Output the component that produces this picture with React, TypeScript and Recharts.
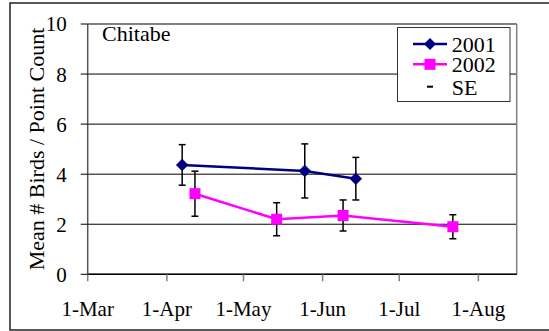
import React from 'react';
import { LineChart, Line, XAxis, YAxis, CartesianGrid, ErrorBar, ReferenceLine } from 'recharts';

const SITE = 'Chitabe';
const Y_TITLE = 'Mean # Birds / Point Count';
const SERIES_NAMES = ['2001', '2002'];
const SE_LABEL = 'SE';

const dates2001 = ['04-07', '05-25', '06-14'];
const mean2001 = [4.37, 4.13, 3.82];
const se2001 = [0.81, 1.08, 0.85];

const dates2002 = ['04-12', '05-14', '06-09', '07-22'];
const mean2002 = [3.22, 2.2, 2.35, 1.9];
const se2002 = [0.9, 0.66, 0.62, 0.48];

const tickDates = ['03-01', '04-01', '05-01', '06-01', '07-01', '08-01'];
const tickLabels = ['1-Mar', '1-Apr', '1-May', '1-Jun', '1-Jul', '1-Aug'];
const axisStart = '03-01';
const axisEnd = '08-16';
const yTicks = [0, 2, 4, 6, 8, 10];

const NAVY = '#000080';
const MAGENTA = '#FF00FF';
const FONT = '"Liberation Serif", serif';

const dayOf = (md: string) => {
  const [m, d] = md.split('-').map(Number);
  const [m0, d0] = axisStart.split('-').map(Number);
  return Math.round((Date.UTC(2001, m - 1, d) - Date.UTC(2001, m0 - 1, d0)) / 86400000);
};

const data2001 = dates2001.map((d, i) => ({ day: dayOf(d), value: mean2001[i], se: se2001[i] }));
const data2002 = dates2002.map((d, i) => ({ day: dayOf(d), value: mean2002[i], se: se2002[i] }));
const xTicks = tickDates.map(dayOf);
const labelOf: Record<number, string> = {};
xTicks.forEach((t, i) => { labelOf[t] = tickLabels[i]; });

const Diamond = (props: any) => {
  const { cx, cy, key } = props;
  if (cx == null || cy == null) return null;
  const r = 6;
  return (
    <polygon key={key} points={`${cx},${cy - r} ${cx + r},${cy} ${cx},${cy + r} ${cx - r},${cy}`} fill={NAVY} stroke={NAVY} strokeWidth={0.5} />
  );
};

const Square = (props: any) => {
  const { cx, cy, key } = props;
  if (cx == null || cy == null) return null;
  const s = 11;
  return <rect key={key} x={cx - s / 2} y={cy - s / 2} width={s} height={s} fill={MAGENTA} />;
};

const txt = { fontFamily: FONT };

export default function App() {
  return (
    <div style={{ position: 'absolute', left: 0, top: 0, width: 549, height: 331, overflow: 'hidden', background: '#fff', fontFamily: FONT }}>
      <svg width={549} height={331} style={{ position: 'absolute', left: 0, top: 0 }}>
        <rect x={10} y={3} width={600} height={327} fill="none" stroke="#222" strokeWidth={1.5} />
      </svg>
      <div style={{ position: 'absolute', left: 0, top: 0 }}>
        <LineChart width={549} height={331} margin={{ top: 24, right: 32.3, bottom: 0, left: 10 }} style={txt}>
          <CartesianGrid vertical={false} stroke="#000" strokeWidth={1} />
          <XAxis
            type="number"
            dataKey="day"
            domain={[0, dayOf(axisEnd)]}
            ticks={xTicks}
            tickFormatter={(v: number) => labelOf[v] ?? ''}
            height={56.7}
            tickSize={7}
            tickMargin={20}
            axisLine={{ stroke: '#000', strokeWidth: 1.5 }}
            tickLine={{ stroke: '#808080', strokeWidth: 1.5 }}
            tick={{ fill: '#000', fontSize: 21, fontFamily: FONT, style: txt }}
            allowDataOverflow
          />
          <YAxis
            type="number"
            domain={[0, 10]}
            ticks={yTicks}
            width={77.7}
            tickSize={7}
            tickMargin={14}
            axisLine={{ stroke: '#555', strokeWidth: 1.5 }}
            tickLine={{ stroke: '#000' }}
            tick={{ fill: '#000', fontSize: 21, fontFamily: FONT, style: txt }}
          />
          <ReferenceLine y={10} stroke="#808080" strokeWidth={1.5} />
          <ReferenceLine x={dayOf(axisEnd)} stroke="#808080" strokeWidth={1.5} />
          <Line
            data={data2001}
            dataKey="value"
            name={SERIES_NAMES[0]}
            stroke={NAVY}
            strokeWidth={2.5}
            dot={Diamond}
            isAnimationActive={false}
          >
            <ErrorBar dataKey="se" direction="y" width={3.5} stroke="#000" strokeWidth={1.5} />
          </Line>
          <Line
            data={data2002}
            dataKey="value"
            name={SERIES_NAMES[1]}
            stroke={MAGENTA}
            strokeWidth={2.5}
            dot={Square}
            isAnimationActive={false}
          >
            <ErrorBar dataKey="se" direction="y" width={3.5} stroke="#000" strokeWidth={1.5} />
          </Line>
        </LineChart>
      </div>
      <svg width={549} height={331} style={{ position: 'absolute', left: 0, top: 0, pointerEvents: 'none', ...txt }}>
        <text x={36} y={149} transform="rotate(-90 36 149)" textAnchor="middle" dominantBaseline="central" fontSize={22} style={txt} fill="#000">
          {Y_TITLE}
        </text>
        <text x={102} y={40.7} fontSize={22} style={txt} fill="#000">{SITE}</text>
        <rect x={397.5} y={27.5} width={112.5} height={74} fill="#fff" stroke="#333" strokeWidth={1} />
        <line x1={413} y1={44} x2={447} y2={44} stroke={NAVY} strokeWidth={2.5} />
        <polygon points="430,38 436,44 430,50 424,44" fill={NAVY} />
        <text x={451.7} y={52} fontSize={22} style={txt} fill="#000">{SERIES_NAMES[0]}</text>
        <line x1={413} y1={64.3} x2={447} y2={64.3} stroke={MAGENTA} strokeWidth={2.5} />
        <rect x={424.5} y={58.8} width={11} height={11} fill={MAGENTA} />
        <text x={451.7} y={72.3} fontSize={22} style={txt} fill="#000">{SERIES_NAMES[1]}</text>
        <line x1={427} y1={86.7} x2={433} y2={86.7} stroke="#000" strokeWidth={2} />
        <text x={451.7} y={94.7} fontSize={22} style={txt} fill="#000">{SE_LABEL}</text>
      </svg>
    </div>
  );
}
